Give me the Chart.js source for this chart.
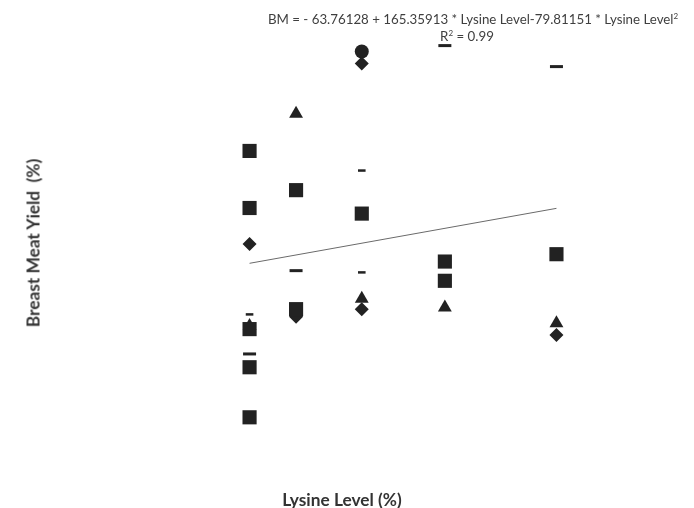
<!DOCTYPE html>
<html lang="en">
<head>
<meta charset="UTF-8">
<title>Breast Meat Yield vs Lysine Level</title>
<style>
body { margin:0; padding:0; background:#fff; font-family: Lato, "Liberation Sans", sans-serif; }
#wrap { position:relative; width:694px; height:508px; }
#chart { position:absolute; left:0; top:0; }
.txt { position:absolute; color:#3f3f3f; white-space:nowrap; }
#eq { left:253px; top:11px; width:440px; text-align:center; font-size:13.3px; line-height:17px; }
#eq sup { font-size:8px; line-height:0; vertical-align:5px; }
#r2 { padding-right:12px; }
#ytitle { left:33px; top:243px; transform:translate(-50%,-50%) rotate(-90deg); font-weight:bold; font-size:17.3px; color:#333; }
#xtitle { left:342px; top:499px; transform:translate(-50%,-50%); font-weight:bold; font-size:17.3px; color:#333; }
</style>
</head>
<body>
<div id="wrap">
<canvas id="chart" width="694" height="508"></canvas>
<div id="eq" class="txt">BM = - 63.76128 + 165.35913 * Lysine Level-79.81151 * Lysine Level<sup>2</sup><br><span id="r2">R<sup>2</sup> = 0.99</span></div>
<div id="ytitle" class="txt">Breast Meat Yield&nbsp; (%)</div>
<div id="xtitle" class="txt">Lysine Level (%)</div>
</div>

<script src="https://cdn.jsdelivr.net/npm/chart.js"></script>
<script>
// lysine levels (x) and yields read per level (one inner list per level)
const lysineLevels = [0.938, 1.013, 1.119, 1.253, 1.433];

const squareYield   = [[24.83, 23.20, 19.74, 18.65, 17.22], [23.71, 20.31], [23.04], [21.67, 21.12], [21.88]];
const diamondYield  = [[22.17], [20.09], [27.33, 20.31], [], [19.57]];
const triangleYield = [[19.83], [25.89], [20.61], [20.36], [19.91]];
const circleYield   = [[], [], [27.67], [], []];
const dashYield     = [[19.03], [21.41], [], [27.84], [27.24]];
const shortDashYield = [[20.16], [], [24.27, 21.36], [], []];

// fitted line as drawn
const trendX = [0.938, 1.433];
const trendY = [21.62, 23.19];

const ink = '#222';

function toPoints(groups) {
  return groups.flatMap((ys, i) => ys.map(y => ({ x: lysineLevels[i], y: y })));
}

function markerSet(label, groups, style, radius, border) {
  return {
    label: label,
    data: toPoints(groups),
    pointStyle: style,
    pointRadius: radius,
    pointHoverRadius: radius,
    pointBackgroundColor: ink,
    pointBorderColor: ink,
    pointBorderWidth: border || 0,
    showLine: false
  };
}

const ctx = document.getElementById('chart').getContext('2d');
new Chart(ctx, {
  type: 'scatter',
  data: {
    datasets: [
      markerSet('Square', squareYield, 'rect', 10),
      markerSet('Diamond', diamondYield, 'rectRot', 7),
      markerSet('Triangle', triangleYield, 'triangle', 8),
      markerSet('Circle', circleYield, 'circle', 7),
      markerSet('Dash', dashYield, 'line', 6.5, 3),
      markerSet('Short dash', shortDashYield, 'line', 3.8, 2.5),
      {
        label: 'Fit',
        data: trendX.map((x, i) => ({ x: x, y: trendY[i] })),
        showLine: true,
        borderColor: '#6a6a6a',
        borderWidth: 1,
        pointRadius: 0,
        pointHoverRadius: 0
      }
    ]
  },
  options: {
    responsive: false,
    animation: false,
    layout: { autoPadding: false, padding: { left: 40, right: 34, top: 40, bottom: 48 } },
    plugins: { legend: { display: false }, tooltip: { enabled: false } },
    scales: {
      x: { type: 'linear', min: 0.6, max: 1.6, display: false },
      y: { type: 'linear', min: 16, max: 28, display: false }
    }
  }
});
</script>
</body>
</html>
